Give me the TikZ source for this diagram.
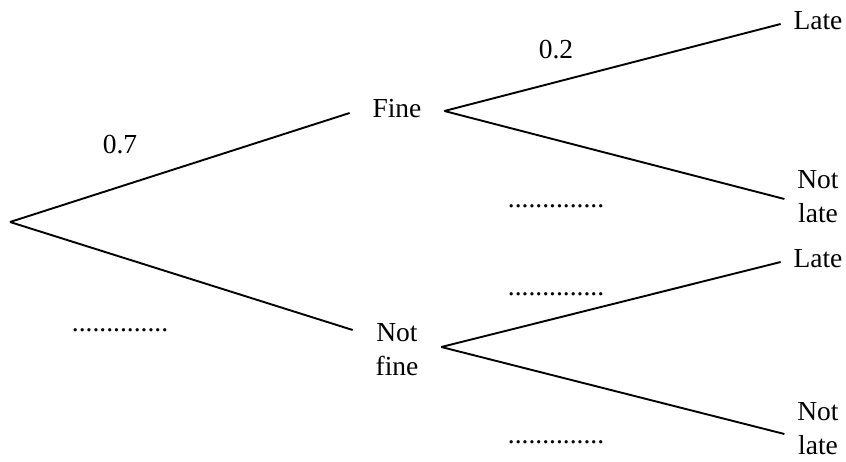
\documentclass[tikz,border=0pt]{standalone}
\usepackage{fontspec}
\setmainfont{Liberation Serif}
\usetikzlibrary{positioning}
\begin{document}
\begin{tikzpicture}[x=1pt,y=-1pt,line width=1.9pt,
				every node/.style={font=\fontsize{27.5}{34}\selectfont,align=center},
				state/.style={inner xsep=22pt,inner ysep=0pt},
				outcome/.style={inner xsep=12pt,inner ysep=0pt},
				prob/.style={inner sep=0pt},
				blank/.style={inner sep=0pt,anchor=base}]
				\useasboundingbox (0,0) rectangle (846,461);
				\coordinate (ROOT) at (10,222);
				\node (FINE)  [state]   at (397,109) {Fine};
				\node (NFINE) [state]   at (397,350) {Not\\fine};
				\node (LA)    [outcome] at (818,21)  {Late};
				\node (NLA)   [outcome] at (818,197) {Not\\late};
				\node (LB)    [outcome] at (818,259) {Late};
				\node (NLB)   [outcome] at (818,429) {Not\\late};
				\node (PFINE) [prob]    at (120,145) {0.7};
				\node (PLATE) [prob]    at (556,50)  {0.2};
				\node (BNF)   [blank]   at (120,331) {..............};
				\node (BNLA)  [blank]   at (556,207) {..............};
				\node (BLB)   [blank]   at (556,295) {..............};
				\node (BNLB)  [blank]   at (556,443) {..............};
				
				\draw (ROOT) -- ([yshift=-4pt]FINE.west);
				\draw (ROOT) -- ([yshift=20pt]NFINE.west);
				\draw ([yshift=-2pt]FINE.east) -- ([yshift=-3pt]LA.west);
				\draw ([yshift=-2pt]FINE.east) -- ([yshift=-2pt]NLA.west);
				\draw ([yshift=3pt]NFINE.east) -- ([yshift=-3pt]LB.west);
				\draw ([yshift=3pt]NFINE.east) -- ([yshift=-5pt]NLB.west);
			\end{tikzpicture}
\end{document}
